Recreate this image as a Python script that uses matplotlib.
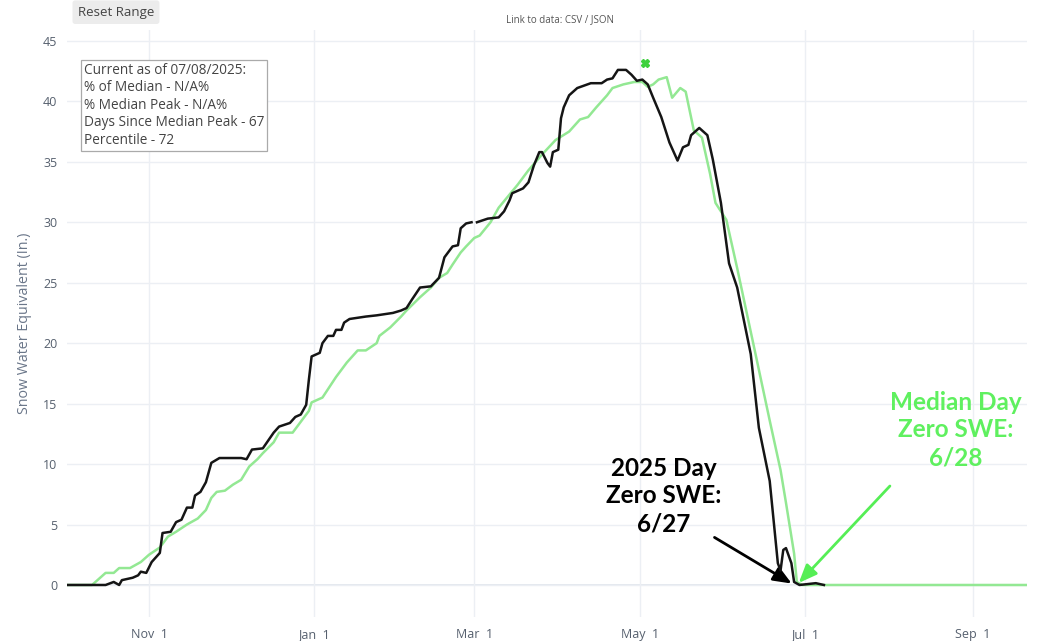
import numpy as np
import pandas as pd
import matplotlib
matplotlib.use('Agg')
import matplotlib.pyplot as plt
import matplotlib.dates as mdates

plt.rcParams['font.family'] = ['Open Sans', 'DejaVu Sans']

# water year 2025, days counted from Oct 1 2024
wy_start = pd.Timestamp('2024-10-01')

# 2025 snow water equivalent (in.)
days_2025 = [0, 15, 18, 20, 21, 25, 27, 28, 30, 32, 35, 36, 39, 41, 43, 45, 47, 48, 50, 52,
             54, 57, 65, 67, 69, 73, 77, 79, 83, 85, 87, 89, 90, 91, 94, 95, 97, 99, 100, 102,
             103, 105, 111, 115, 121, 124, 126, 128, 131, 135, 138, 140, 143, 145, 146, 148, 150, 151,
             152, 156, 160, 162, 164, 165, 169, 171, 173, 175, 176, 178, 179, 180, 182, 183, 184, 186,
             189, 194, 198, 200, 202, 204, 207, 209, 211, 213, 215, 217, 220, 223, 226, 228, 230, 231,
             234, 237, 239, 242, 245, 248, 250, 253, 256, 260, 263, 264, 265, 266, 268, 269, 271, 277, 280]
swe_2025 = [0, 0, 0.25, 0, 0.4, 0.6, 0.8, 1.1, 1.0, 1.9, 2.65, 4.3, 4.4, 5.2, 5.4, 6.4, 6.4, 7.4, 7.7, 8.5,
            10.1, 10.5, 10.5, 10.4, 11.2, 11.3, 12.6, 13.1, 13.4, 13.9, 14.1, 14.9, 17.0, 18.9, 19.2, 20.0, 20.6, 20.6, 21.1, 21.1,
            21.7, 22.0, 22.2, 22.3, 22.5, 22.7, 22.9, 23.6, 24.6, 24.7, 25.4, 27.1, 28.0, 28.1, 29.5, 29.9, 30.0, np.nan,
            30.0, 30.3, 30.4, 30.9, 31.8, 32.4, 32.8, 33.3, 34.7, 35.8, 35.8, 34.9, 34.6, 35.8, 36.0, 38.6, 39.5, 40.5,
            41.1, 41.5, 41.5, 41.8, 41.9, 42.6, 42.6, 42.2, 41.7, 41.8, 41.4, 40.3, 38.7, 36.6, 35.1, 36.2, 36.4, 37.2,
            37.8, 37.2, 35.2, 31.6, 26.6, 24.6, 22.4, 19.1, 13.0, 8.6, 1.8, 1.2, 2.9, 3.05, 1.8, 0.25, 0, 0.15, 0]

# median snow water equivalent (in.)
days_median = [0, 10, 15, 18, 20, 24, 28, 31, 35, 38, 41, 45, 49, 52, 54, 56, 59, 62, 65, 68,
               71, 73, 77, 79, 84, 87, 90, 91, 93, 95, 100, 104, 108, 111, 115, 116, 120, 124, 126, 131,
               135, 138, 141, 143, 146, 148, 151, 153, 157, 160, 167, 171, 176, 181, 186, 190, 193, 196, 200, 202,
               206, 210, 213, 215, 217, 219, 222, 224, 227, 229, 232, 234, 235, 238, 240, 244, 248, 252, 256, 260,
               264, 266, 269, 270, 272, 355]
swe_median = [0, 0, 1.0, 1.0, 1.4, 1.4, 1.9, 2.5, 3.1, 4.0, 4.4, 5.0, 5.5, 6.2, 7.2, 7.7, 7.8, 8.3, 8.7, 9.8,
              10.4, 10.9, 11.8, 12.6, 12.6, 13.5, 14.4, 15.1, 15.3, 15.5, 17.2, 18.4, 19.4, 19.4, 20.0, 20.6, 21.3, 22.2, 22.7, 23.8,
              24.6, 25.4, 25.8, 26.5, 27.5, 28.0, 28.7, 28.9, 30.0, 31.2, 33.1, 34.3, 35.6, 36.8, 37.5, 38.5, 38.7, 39.5, 40.5, 41.1,
              41.4, 41.6, 41.6, 41.2, 41.4, 41.8, 42.0, 40.3, 41.1, 40.8, 37.6, 37.2, 37.0, 34.0, 31.6, 30.2, 26.2, 22.0, 17.8, 13.6,
              9.5, 6.8, 2.6, 0.25, 0, 0]

median_peak_day = 214
median_peak_swe = 43.2

zero_2025 = pd.Timestamp('2025-06-27')
zero_median = pd.Timestamp('2025-06-28')

info_lines = ['Current as of 07/08/2025:',
              '% of Median - N/A%',
              '% Median Peak - N/A%',
              'Days Since Median Peak - 67',
              'Percentile - 72']

dates_2025 = wy_start + pd.to_timedelta(days_2025, unit='D')
dates_median = wy_start + pd.to_timedelta(days_median, unit='D')

fig = plt.figure(figsize=(10.4, 6.41), dpi=100)
ax = fig.add_axes([0.0644, 0.0374, 0.9231, 0.9158])

tick_col = '#56606e'
grid_col = '#eceff4'

ax.plot(dates_median, swe_median, color='#93e893', lw=1.8, zorder=3)
ax.plot(dates_2025, swe_2025, color='#151515', lw=1.8, zorder=4)
ax.plot(wy_start + pd.Timedelta(days=median_peak_day), median_peak_swe, marker='X',
        color='#3ed13e', ms=6, mec='#3ed13e', zorder=5)

ax.set_xlim(pd.Timestamp('2024-10-01 18:00'), pd.Timestamp('2025-09-20 22:00'))
ax.set_ylim(-2.65, 45.9)
ax.set_yticks(np.arange(0, 46, 5))
ax.xaxis.set_major_locator(mdates.MonthLocator(bymonth=[11, 1, 3, 5, 7, 9]))
ax.xaxis.set_major_formatter(mdates.DateFormatter('%b  %-d'))

ax.grid(True, color=grid_col, lw=1)
ax.axhline(0, color='#e2e6ee', lw=1.3, zorder=1)
for s in ax.spines.values():
    s.set_visible(False)
ax.tick_params(length=0, colors=tick_col, labelsize=9)
ax.tick_params(axis='y', pad=7)
ax.tick_params(axis='x', pad=8)
ax.set_ylabel('Snow Water Equivalent (In.)', color='#6a7689', fontsize=10.3)
ax.yaxis.set_label_coords(-0.036, 0.5)

# info box
ax.text(0.0175, 0.944, '\n'.join(info_lines), transform=ax.transAxes, ha='left', va='top',
        fontsize=9.8, color='#444444', linespacing=1.22,
        bbox=dict(boxstyle='square,pad=0.22', fc='white', ec='#aaaaaa', lw=0.9))

# annotations
ax.annotate('', xy=(zero_2025, 0), xytext=(-82, 49), textcoords='offset pixels',
            arrowprops=dict(arrowstyle='-|>,head_length=1.1,head_width=0.45', color='black', lw=2))
ax.annotate('2025 Day\nZero SWE:\n6/27', xy=(zero_2025, 0), xytext=(-130, 89),
            textcoords='offset pixels', ha='center', va='center', fontsize=17.5,
            fontweight='bold', family=['Lato', 'DejaVu Sans'], color='black', linespacing=1.25)
ax.annotate('', xy=(zero_median, 0), xytext=(95, 101), textcoords='offset pixels',
            arrowprops=dict(arrowstyle='-|>,head_length=1.1,head_width=0.45', color='#55ee55', lw=2))
ax.annotate('Median Day\nZero SWE:\n6/28', xy=(zero_median, 0), xytext=(159, 155),
            textcoords='offset pixels', ha='center', va='center', fontsize=17.5,
            fontweight='bold', family=['Lato', 'DejaVu Sans'], color='#5ff05f', linespacing=1.25)

# plotly toolbar bits
fig.text(0.1115, 0.981, 'Reset Range', ha='center', va='center', fontsize=9.5, color='#444444',
         bbox=dict(boxstyle='round,pad=0.4,rounding_size=0.2', fc='#ececec', ec='none'))
fig.text(0.538, 0.970, 'Link to data: CSV / JSON', ha='center', va='center', fontsize=7,
         color='#555555')

fig.savefig('out.png', dpi=100)
